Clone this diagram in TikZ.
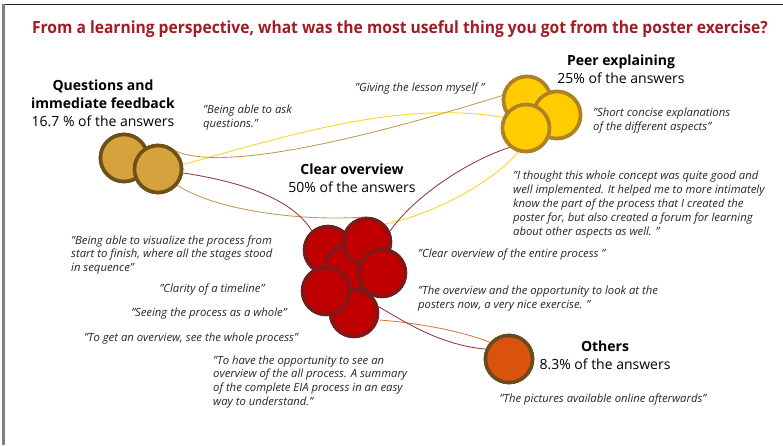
\documentclass[tikz,border=0pt]{standalone}
\usepackage{fontspec}
\setmainfont{Open Sans}
\newfontfamily\titlefont[FakeStretch=0.93]{Open Sans}
\begin{document}
\begin{tikzpicture}[x=1pt,y=-1pt,
  titletext/.style={font=\titlefont\fontsize{16.8}{20}\selectfont\bfseries, text=titlered, anchor=base, inner sep=0},
  grouplabel/.style={font=\fontsize{14}{18}\selectfont, align=center, anchor=base, inner sep=0, text=black},
  quote/.style={font=\fontsize{11.3}{13.8}\selectfont\itshape, align=left, anchor=base west, inner sep=0, text=quotegray},
  quotec/.style={quote, align=center, anchor=base},
  bubble/.style={circle, inner sep=0, minimum size=47, line width=3.6},
  qbub/.style={bubble, fill=qfill, draw=qline},
  pbub/.style={bubble, fill=pfill, draw=pline},
  cbub/.style={bubble, fill=cfill, draw=cline, line width=3.4},
  obub/.style={bubble, fill=ofill, draw=oline},
  link/.style={line width=0.85},
]
\definecolor{titlered}{HTML}{A21C24}
\definecolor{quotegray}{HTML}{262626}
\definecolor{qfill}{HTML}{D6A23D}
\definecolor{qline}{HTML}{6E5119}
\definecolor{pfill}{HTML}{FFCC00}
\definecolor{pline}{HTML}{AD8126}
\definecolor{cfill}{HTML}{C00000}
\definecolor{cline}{HTML}{7A1A1A}
\definecolor{ofill}{HTML}{D9530E}
\definecolor{oline}{HTML}{6B4A1B}
\definecolor{yline}{HTML}{FFD21F}
\definecolor{tline}{HTML}{C09A4A}
\definecolor{rline}{HTML}{8E3A3A}
\definecolor{orline}{HTML}{E0753A}

\useasboundingbox (0,0) rectangle (783,445);
% frame
\draw[line width=1, black!85] (2,4.5) -- (783,4.5);
\draw[line width=2.2, gray] (3.5,4) -- (3.5,445);

\node[titletext] (title) at (400,33) {From a learning perspective, what was the most useful thing you got from the poster exercise?};

% bubbles (placed first so connectors can refer to them)
\node[qbub] (q1) at (124,158) {};
\node[qbub] (q2) at (158,169) {};

\node[pbub] (pa) at (527,100) {};
\node[pbub] (pb) at (557,115) {};
\node[pbub] (pc) at (526,128) {};

\node[cbub] (c1) at (328,250) {};
\node[cbub] (c3) at (348,269) {};
\node[cbub] (c2) at (367,242) {};
\node[cbub] (c4) at (382,273) {};
\node[cbub] (c6) at (354,313) {};
\node[cbub] (c5) at (326,291) {};

\node[obub] (o1) at (509,359) {};

% connectors
\path[link, draw=yline] (q2.10) .. controls (290,135) and (400,100) .. (pc.155);
\path[link, draw=tline] (q2.45) .. controls (215,168) and (320,152) .. (pa.170);
\path[link, draw=tline] (q2.-40) .. controls (215,210) and (300,222) .. (c2.90);
\path[link, draw=yline] (pc.252) .. controls (490,185) and (430,215) .. (c2.45);
\path[link, draw=rline] (q2.-9) .. controls (230,180) and (290,195) .. (c1.130);
\path[link, draw=rline] (pc.230) .. controls (470,160) and (415,195) .. (c2.25);
\path[link, draw=orline] (c6.-16) .. controls (410,322) and (460,330) .. (o1.139);
\path[link, draw=rline] (c6.15) .. controls (405,322) and (440,345) .. (o1.157);

% bubbles again, over the connector ends
\node[qbub] at (q1) {};
\node[qbub] at (q2) {};
\node[pbub] at (pa) {};
\node[pbub] at (pb) {};
\node[pbub] at (pc) {};
\node[cbub] at (c1) {};
\node[cbub] at (c3) {};
\node[cbub] at (c2) {};
\node[cbub] at (c4) {};
\node[cbub] at (c6) {};
\node[cbub] at (c5) {};
\node[obub] at (o1) {};

% group labels (anchored at the baseline of the last line)
\node[grouplabel] (ql) at (103,126) {\textbf{Questions and}\\\textbf{immediate feedback}\\16.7 \% of the answers};
\node[grouplabel] (pl) at (621,83) {\textbf{Peer explaining}\\25\% of the answers};
\node[grouplabel] (cl) at (352,192) {\textbf{Clear overview}\\50\% of the answers};
\node[grouplabel] (ol) at (605,369) {\textbf{Others}\\8.3\% of the answers};

% quotes (anchored at the baseline of the last line)
\node[quote] (qq1) at (203,127) {"Being able to ask\\questions."};
\node[quote] (pq1) at (355,91) {"Giving the lesson myself "};
\node[quote] (pq2) at (593,130) {"Short concise explanations\\of the different aspects"};
\node[quote] (pq3) at (513,235) {"I thought this whole concept was quite good and\\well implemented. It helped me to more intimately\\know the part of the process that I created the\\poster for, but also created a forum for learning\\about other aspects as well. "};
\node[quote] (cq1) at (418,257) {"Clear overview of the entire process "};
\node[quote] (cq2) at (418,308) {"The overview and the opportunity to look at the\\posters now, a very nice exercise. "};
\node[quote] (cq3) at (71,271.6) {"Being able to visualize the process from\\start to finish, where all the stages stood\\in sequence"};
\node[quotec] (cq4) at (212,292) {"Clarity of a timeline"};
\node[quotec] (cq5) at (209,316) {"Seeing the process as a whole"};
\node[quotec] (cq6) at (191,341) {"To get an overview, see the whole process"};
\node[quote] (cq7) at (213,405.4) {"To have the opportunity to see an\\overview of the all process. A summary\\of the complete EIA process in an easy\\way to understand."};
\node[quotec] (oq1) at (603,402) {"The pictures available online afterwards"};
\end{tikzpicture}
\end{document}
